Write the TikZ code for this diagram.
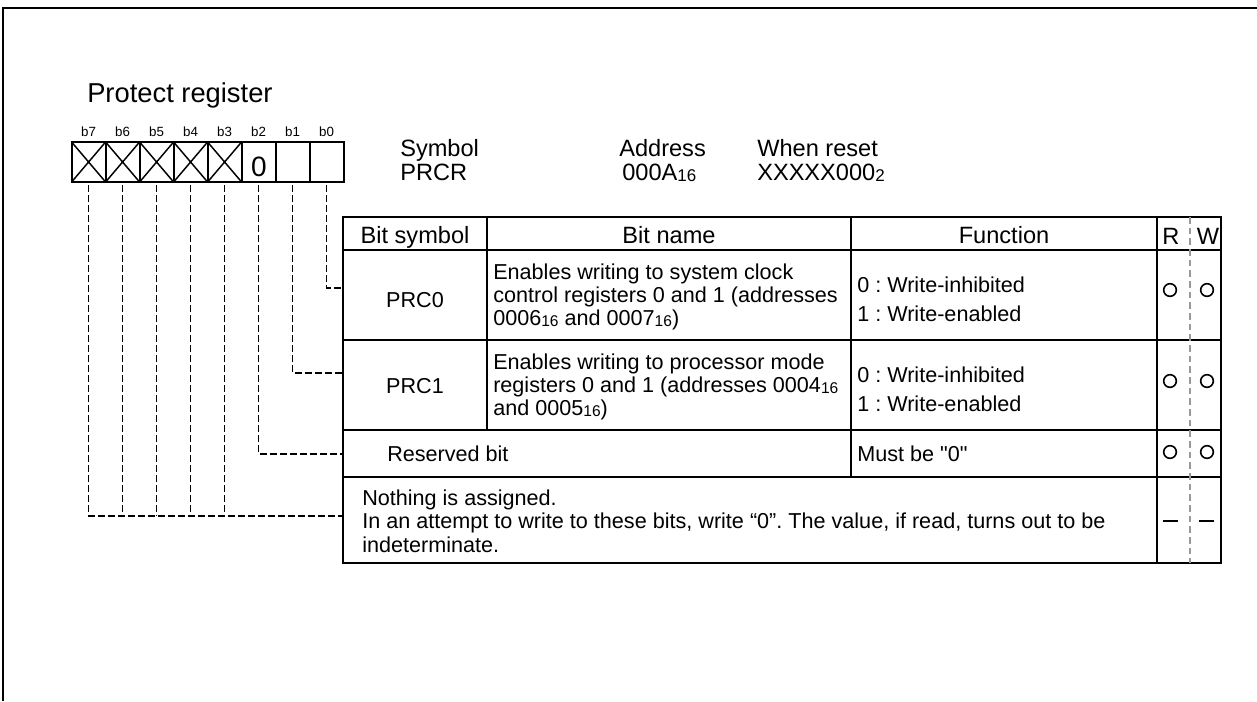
\documentclass[tikz,border=0pt]{standalone}
\usepackage{fontspec}
\setmainfont{Liberation Sans}[Ligatures=TeXOff]
\usepackage{graphicx}
\newcommand\lsub[1]{\raisebox{-0.12ex}{\scalebox{0.72}{#1}}}
\frenchspacing
\begin{document}
\begin{tikzpicture}[x=0.75pt,y=-0.75pt,
  frameline/.style={line width=1.6pt},
  tline/.style={line width=1.6pt},
  cell/.style={draw, line width=1.6pt, minimum width=25.5pt, minimum height=30pt, inner sep=0pt, outer sep=0pt},
  conn/.style={line width=1.2pt, dash pattern=on 5pt off 2.5pt},
  gdash/.style={draw=black!40, line width=1.1pt, dash pattern=on 5pt off 3pt},
  body/.style={inner sep=0pt, font=\fontsize{16.2}{17}\selectfont},
  head/.style={inner sep=0pt, font=\fontsize{17.7}{20}\selectfont},
  bitlbl/.style={inner sep=0pt, font=\fontsize{10}{12}\selectfont},
  rwc/.style={circle, draw, line width=1.2pt, minimum size=9.5pt, inner sep=0pt}
]
\useasboundingbox (0,0) rectangle (1257,701);
% page frame
\draw[frameline] (3,701) -- (3,8) -- (1257,8);

% title
\node[inner sep=0pt, anchor=base west, font=\fontsize{20.5}{24}\selectfont] (title) at (87,102) {Protect register};

% register cells
\foreach \i in {0,...,7} {
  \node[cell] (c\i) at ({326.6-34*\i},162) {};
  \path (c\i.north) ++(0,-6) node[bitlbl, anchor=base] (l\i) {b\i};
}
\foreach \i in {3,...,7} {
  \draw[line width=1.1pt] (c\i.north west) -- (c\i.south east) (c\i.south west) -- (c\i.north east);
}
\node[inner sep=0pt, font=\fontsize{21}{24}\selectfont] (zero) at (259,167) {0};

% symbol / address / reset
\node[head, anchor=base west] (sym) at (400,156) {Symbol};
\node[head, anchor=base west] (symv) at (400,180) {PRCR};
\node[head, anchor=base west] (adr) at (619,156) {Address};
\node[head, anchor=base west] (adrv) at (622,180) {000A\lsub{16}};
\node[head, anchor=base west] (rst) at (757,156) {When reset};
\node[head, anchor=base west] (rstv) at (757,180) {XXXXX000\lsub{2}};

% table
\draw[tline] (343,217) rectangle (1221,563);
\draw[tline] (343,250) -- (1221,250);
\draw[tline] (343,340) -- (1221,340);
\draw[tline] (343,430) -- (1221,430);
\draw[tline] (343,477) -- (1221,477);
\draw[tline] (487,217) -- (487,430);
\draw[tline] (851,217) -- (851,477);
\draw[tline] (1157,217) -- (1157,563);
\draw[gdash] (1190,217) -- (1190,563);

% header row
\node[head, anchor=base] (h1) at (415,243) {Bit symbol};
\node[head, anchor=base] (h2) at (669,243) {Bit name};
\node[head, anchor=base] (h3) at (1004,243) {Function};
\node[head, anchor=base] (hr) at (1171,244) {R};
\node[head, anchor=base] (hw) at (1208,244) {W};

% PRC0
\node[body, anchor=base] (s0) at (415,307) {PRC0};
\node[body, anchor=west, align=left] (n0) at (493,297) {Enables writing to system clock\\control registers 0 and 1 (addresses\\0006\lsub{16} and 0007\lsub{16})};
\node[body, anchor=west, align=left, font=\fontsize{16.2}{21.75}\selectfont] (f0) at (857,299) {0 : Write-inhibited\\1 : Write-enabled};
\node[rwc] (r0) at (1170,290) {};
\node[rwc] (w0) at (1207,290) {};

% PRC1
\node[body, anchor=base] (s1) at (415,393) {PRC1};
\node[body, anchor=west, align=left] (n1) at (493,387) {Enables writing to processor mode\\registers 0 and 1 (addresses 0004\lsub{16}\\and 0005\lsub{16})};
\node[body, anchor=west, align=left, font=\fontsize{16.2}{21.75}\selectfont] (f1) at (857,389) {0 : Write-inhibited\\1 : Write-enabled};
\node[rwc] (r1) at (1170,381) {};
\node[rwc] (w1) at (1207,381) {};

% reserved
\node[body, anchor=base west] (s2) at (387,461) {Reserved bit};
\node[body, anchor=base west] (f2) at (857,461) {Must be "0"};
\node[rwc] (r2) at (1170,452) {};
\node[rwc] (w2) at (1207,452) {};

% nothing assigned
\node[body, anchor=west, align=left, font=\fontsize{16.2}{17.5}\selectfont] (s3) at (362,521) {Nothing is assigned.\\In an attempt to write to these bits, write “0”. The value, if read, turns out to be\\indeterminate.};
\coordinate (r3a) at (1163,521); \coordinate (r3b) at (1178,521);
\coordinate (w3a) at (1199,521); \coordinate (w3b) at (1214,521);
\draw[line width=1.2pt] (r3a) -- (r3b);
\draw[line width=1.2pt] (w3a) -- (w3b);

% connectors
\coordinate (e0) at (343,288);
\coordinate (e1) at (343,373);
\coordinate (e2) at (343,454);
\coordinate (e3) at (343,516);
\draw[conn] ([yshift=-2.5pt]c0.south) |- (e0);
\draw[conn] ([yshift=-2.5pt]c1.south) |- (e1);
\draw[conn] ([yshift=-2.5pt]c2.south) |- (e2);
\draw[conn] ([yshift=-2.5pt]c7.south) |- (e3);
\foreach \i in {3,...,6} {
  \draw[conn] ([yshift=-2.5pt]c\i.south) -- (c\i.south |- e3);
}
\end{tikzpicture}
\end{document}
